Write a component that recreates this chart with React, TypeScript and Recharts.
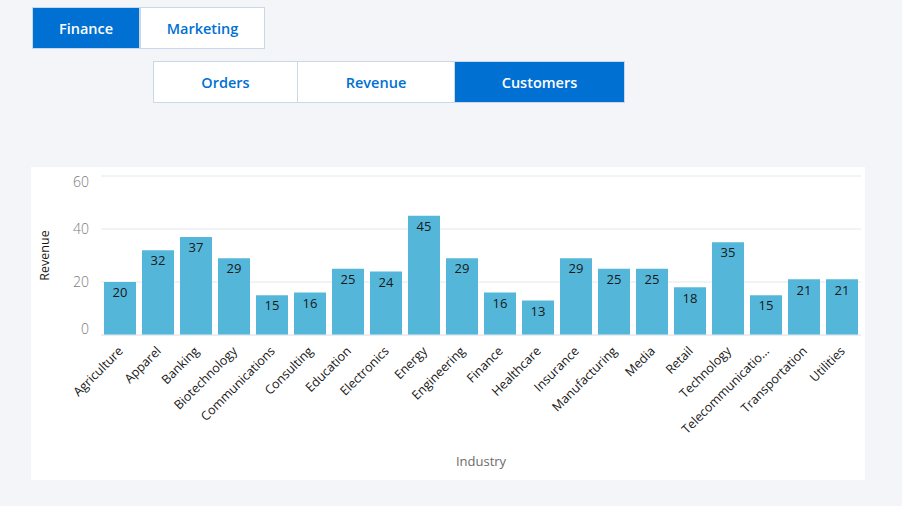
import { BarChart, Bar, XAxis, YAxis, CartesianGrid, LabelList, Label } from "recharts";

const industries = [
  "Agriculture", "Apparel", "Banking", "Biotechnology", "Communications",
  "Consulting", "Education", "Electronics", "Energy", "Engineering",
  "Finance", "Healthcare", "Insurance", "Manufacturing", "Media",
  "Retail", "Technology", "Telecommunications", "Transportation", "Utilities",
];
const revenue = [20, 32, 37, 29, 15, 16, 25, 24, 45, 29, 16, 13, 29, 25, 25, 18, 35, 15, 21, 21];
const yTicks = [0, 20, 40, 60];
const topTabs = ["Finance", "Marketing"];
const subTabs = ["Orders", "Revenue", "Customers"];

const data = industries.map((name, i) => ({ name, value: revenue[i] }));

const font = "'Open Sans', 'Noto Sans', sans-serif";
const blue = "#0070d2";

const shorten = (s: string) => (s.length > 16 ? s.slice(0, 16) + "…" : s);

function XTick(props: any) {
  const { x, y, payload } = props;
  return (
    <g transform={`translate(${x + 1},${y + 6})`}>
      <text
        transform="rotate(-45)"
        textAnchor="end"
        fontSize={12.5}
        fill="#181818"
        fontFamily={font}
        dy={4}
      >
        {shorten(payload.value)}
      </text>
    </g>
  );
}

// keep the top and bottom labels inside the plot, like the original
function YTick(props: any) {
  const { x, y, payload } = props;
  let dy = 5;
  if (payload.value === 60) dy = 11;
  if (payload.value === 0) dy = -1;
  return (
    <text x={x} y={y} dy={dy} textAnchor="end" fontSize={14} fill="#7a7a7a" fontFamily={font} fontWeight={300}>
      {payload.value}
    </text>
  );
}

function Tab({ label, active, left, top, width }: any) {
  return (
    <div
      style={{
        position: "absolute",
        left,
        top,
        width,
        height: 42,
        boxSizing: "border-box",
        border: "1px solid #c9d7e6",
        background: active ? blue : "#fff",
        color: active ? "#fff" : blue,
        display: "flex",
        alignItems: "center",
        justifyContent: "center",
        fontFamily: font,
        fontWeight: 600,
        fontSize: 14.5,
      }}
    >
      {label}
    </div>
  );
}

export default function App() {
  const topW = [108, 124];
  const subW = [144, 157, 170];
  let tx = 32;
  let sx = 153;
  return (
    <div
      style={{
        position: "fixed",
        left: 0,
        top: 0,
        width: 902,
        height: 506,
        background: "#f3f5f9",
        overflow: "hidden",
      }}
    >
      {topTabs.map((t, i) => {
        const left = tx;
        tx += topW[i];
        return <Tab key={t} label={t} active={i === 0} left={left} top={7} width={topW[i] + (i === 0 ? 0 : 1)} />;
      })}
      {subTabs.map((t, i) => {
        const left = sx;
        sx += subW[i];
        return <Tab key={t} label={t} active={i === 2} left={left} top={61} width={subW[i] + 1} />;
      })}
      <div style={{ position: "absolute", left: 31, top: 167, width: 834, height: 313, background: "#fff" }}>
        <BarChart
          width={834}
          height={313}
          data={data}
          margin={{ top: 9, right: 4, left: 0, bottom: 0 }}
          barCategoryGap={3}
        >
          <CartesianGrid vertical={false} stroke="#e3e8ef" />
          <XAxis
            dataKey="name"
            interval={0}
            height={145}
            tick={<XTick />}
            tickLine={false}
            axisLine={{ stroke: "#e3e8ef" }}
          >
            <Label
              value="Industry"
              position="insideBottom"
              offset={14}
              fill="#6b6b6b"
              fontSize={13}
              fontFamily={font}
            />
          </XAxis>
          <YAxis
            width={70}
            domain={[0, 60]}
            ticks={yTicks}
            tickLine={false}
            axisLine={false}
            tick={<YTick />}
            tickMargin={6}
          >
            <Label
              value="Revenue"
              angle={-90}
              position="insideLeft"
              offset={14}
              fill="#181818"
              fontSize={12.5}
              fontFamily={font}
              style={{ textAnchor: "middle" }}
            />
          </YAxis>
          <Bar dataKey="value" fill="#54b7da" isAnimationActive={false}>
            <LabelList
              dataKey="value"
              position="insideTop"
              offset={6}
              fill="#181818"
              fontSize={13}
              fontFamily={font}
            />
          </Bar>
        </BarChart>
      </div>
    </div>
  );
}
